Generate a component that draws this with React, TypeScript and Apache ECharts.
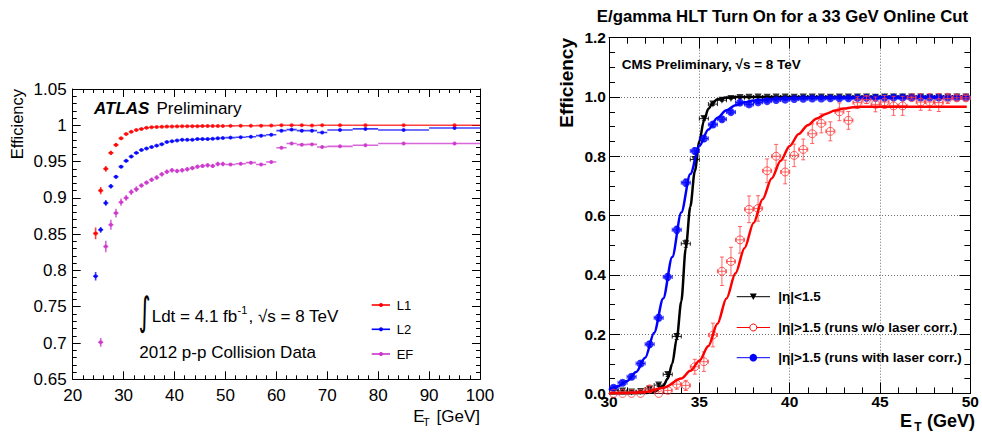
import React, { useEffect, useRef } from "react";
import * as echarts from "echarts";

// ---------------- ATLAS panel data ----------------
const atlasBinCenters = [
  24.5, 25.5, 26.5, 27.5, 28.5, 29.5, 30.5, 31.5, 32.5, 33.5, 34.5, 35.5, 36.5,
  37.5, 38.5, 39.5, 40.5, 41.5, 42.5, 43.5, 44.5, 45.5, 46.5, 47.5, 48.5, 49.5,
  51, 53, 55, 57, 59, 61, 63, 65, 67, 69, 72.5, 77.5, 85, 95,
];
const atlasBinHalfWidths = [
  0.5, 0.5, 0.5, 0.5, 0.5, 0.5, 0.5, 0.5, 0.5, 0.5, 0.5, 0.5, 0.5,
  0.5, 0.5, 0.5, 0.5, 0.5, 0.5, 0.5, 0.5, 0.5, 0.5, 0.5, 0.5, 0.5,
  1, 1, 1, 1, 1, 1, 1, 1, 1, 1, 2.5, 2.5, 5, 5,
];
const l1Eff = [
  0.851, 0.91, 0.94, 0.962, 0.973, 0.982, 0.988, 0.991, 0.9935, 0.995, 0.9965, 0.9972, 0.9977,
  0.998, 0.9982, 0.9984, 0.9985, 0.9986, 0.9987, 0.9988, 0.9988, 0.9989, 0.999, 0.999, 0.999, 0.9991,
  0.9992, 0.9993, 0.9994, 0.9995, 0.9996, 1.0, 1.0, 1.0, 0.9998, 1.0, 1.0, 1.0, 1.0, 1.0,
];
const l1Err = [
  0.008, 0.005, 0.004, 0.003, 0.0025, 0.002, 0.0015, 0.0015, 0.001, 0.001, 0.001, 0.001, 0.001,
  0.001, 0.001, 0.001, 0.001, 0.001, 0.001, 0.001, 0.001, 0.001, 0.001, 0.001, 0.001, 0.001,
  0.001, 0.001, 0.001, 0.001, 0.001, 0.001, 0.001, 0.001, 0.001, 0.001, 0.001, 0.001, 0.001, 0.001,
];
const l2Eff = [
  0.792, 0.856, 0.893, 0.916, 0.929, 0.943, 0.951, 0.957, 0.962, 0.966, 0.968, 0.97, 0.972,
  0.974, 0.977, 0.978, 0.979, 0.98, 0.98, 0.98, 0.981, 0.981, 0.981, 0.9815, 0.982, 0.9825,
  0.983, 0.9835, 0.9843, 0.9857, 0.987, 0.9926, 0.994, 0.9926, 0.9926, 0.99, 0.9935, 0.995, 0.9935, 0.9963,
];
const l2Err = [
  0.006, 0.004, 0.004, 0.003, 0.0025, 0.002, 0.002, 0.002, 0.0015, 0.0015, 0.0015, 0.0015, 0.0015,
  0.0015, 0.0015, 0.0015, 0.0015, 0.0015, 0.0015, 0.0015, 0.0015, 0.0015, 0.0015, 0.0015, 0.0015, 0.0015,
  0.0015, 0.0015, 0.0015, 0.0015, 0.0015, 0.0015, 0.0015, 0.0015, 0.0015, 0.0015, 0.0015, 0.0015, 0.0015, 0.0015,
];
const efEff = [
  null, 0.701, 0.833, 0.863, 0.879, 0.894, 0.9, 0.908, 0.912, 0.917, 0.921, 0.925, 0.928,
  0.9325, 0.936, 0.938, 0.937, 0.938, 0.9394, 0.941, 0.943, 0.944, 0.945, 0.944, 0.9467, 0.9467,
  0.946, 0.947, 0.9485, 0.946, 0.9495, 0.969, 0.975, 0.9733, 0.9737, 0.97, 0.971, 0.9724, 0.975, 0.975,
];
const efErr = [
  null, 0.006, 0.008, 0.007, 0.006, 0.005, 0.004, 0.004, 0.004, 0.003, 0.003, 0.003, 0.003,
  0.003, 0.003, 0.003, 0.003, 0.003, 0.003, 0.003, 0.003, 0.003, 0.003, 0.003, 0.003, 0.003,
  0.002, 0.002, 0.002, 0.002, 0.002, 0.002, 0.002, 0.002, 0.002, 0.002, 0.002, 0.002, 0.002, 0.002,
];
const atlasXTicks = { min: 20, max: 100, step: 10 };
const atlasYTicks = { min: 0.65, max: 1.05, step: 0.05 };

// ---------------- CMS panel data ----------------
const cmsBinCenters = [
  30.25, 30.75, 31.25, 31.75, 32.25, 32.75, 33.25, 33.75, 34.25, 34.75,
  35.25, 35.75, 36.25, 36.75, 37.25, 37.75, 38.25, 38.75, 39.25, 39.75,
  40.25, 40.75, 41.25, 41.75, 42.25, 42.75, 43.25, 43.75, 44.25, 44.75,
  45.25, 45.75, 46.25, 46.75, 47.25, 47.75, 48.25, 48.75, 49.25, 49.75,
];
const cmsBinHalfWidth = 0.25;
const barrelEff = [
  0.01, 0.008, 0.005, 0.006, 0.015, 0.028, 0.064, 0.192, 0.505, 0.789,
  0.927, 0.976, 0.989, 0.995, 0.998, 0.999, 1.0, 0.999, 1.0, 1.0,
  0.999, 1.0, 1.0, 1.0, 0.999, 1.0, 1.0, 1.0, 1.0, 0.999,
  1.0, 1.0, 1.0, 1.0, 1.0, 0.999, 1.0, 1.0, 1.0, 1.0,
];
const barrelErr = [
  0.004, 0.004, 0.003, 0.003, 0.004, 0.005, 0.007, 0.01, 0.012, 0.01,
  0.007, 0.004, 0.003, 0.002, 0.002, 0.002, 0.002, 0.002, 0.002, 0.002,
  0.002, 0.002, 0.002, 0.002, 0.002, 0.002, 0.002, 0.002, 0.002, 0.002,
  0.002, 0.002, 0.002, 0.002, 0.002, 0.002, 0.002, 0.002, 0.002, 0.002,
];
const endcapNoLaserEff = [
  0.0, 0.0, 0.0, 0.0, 0.015, 0.0, 0.01, 0.031, 0.027, 0.09,
  0.107, 0.197, 0.412, 0.445, 0.518, 0.621, 0.624, 0.751, 0.8, 0.747,
  0.803, 0.823, 0.876, 0.911, 0.884, 0.95, 0.921, 0.981, 0.991, 0.975,
  0.983, 0.97, 0.97, 0.998, 0.983, 0.983, 0.981, 0.995, 0.997, 0.997,
];
const endcapNoLaserErr = [
  0.006, 0.006, 0.006, 0.008, 0.012, 0.006, 0.012, 0.017, 0.017, 0.025,
  0.033, 0.04, 0.048, 0.048, 0.045, 0.045, 0.043, 0.04, 0.04, 0.04,
  0.038, 0.035, 0.033, 0.032, 0.032, 0.03, 0.03, 0.02, 0.013, 0.025,
  0.022, 0.032, 0.032, 0.005, 0.028, 0.028, 0.03, 0.017, 0.01, 0.008,
];
const endcapLaserEff = [
  0.019, 0.036, 0.056, 0.101, 0.166, 0.255, 0.393, 0.552, 0.711, 0.818,
  0.86, 0.907, 0.925, 0.949, 0.981, 0.975, 0.982, 0.986, 0.99, 0.991,
  0.993, 0.994, 0.995, 0.995, 0.996, 0.996, 0.996, 0.997, 0.997, 0.997,
  0.997, 0.998, 0.998, 0.998, 0.998, 0.998, 0.998, 0.998, 0.998, 0.998,
];
const endcapLaserErr = [
  0.006, 0.006, 0.007, 0.008, 0.009, 0.01, 0.011, 0.012, 0.012, 0.01,
  0.009, 0.008, 0.007, 0.006, 0.005, 0.005, 0.004, 0.004, 0.004, 0.003,
  0.003, 0.003, 0.003, 0.003, 0.003, 0.003, 0.003, 0.003, 0.003, 0.003,
  0.003, 0.003, 0.003, 0.003, 0.003, 0.003, 0.003, 0.003, 0.003, 0.003,
];
// fitted turn-on curves
const barrelFitX = [30, 31, 32, 32.5, 33.0, 33.25, 33.5, 33.75, 34.0, 34.25, 34.5, 34.75, 35.0, 35.25, 35.5, 35.75, 36.0, 36.5, 37.0, 40, 45, 50];
const barrelFitY = [0.0, 0.0, 0.001, 0.005, 0.025, 0.05, 0.1, 0.185, 0.31, 0.49, 0.63, 0.75, 0.85, 0.92, 0.96, 0.981, 0.992, 0.998, 1.0, 1.0, 1.0, 1.0];
const laserFitX = [30, 30.5, 31, 31.5, 32, 32.5, 33, 33.5, 34, 34.5, 35, 35.5, 36, 36.5, 37, 37.5, 38, 39, 40, 42, 45, 50];
const laserFitY = [0.011, 0.024, 0.042, 0.072, 0.12, 0.205, 0.32, 0.46, 0.61, 0.74, 0.835, 0.89, 0.93, 0.955, 0.972, 0.982, 0.988, 0.993, 0.996, 0.997, 0.998, 0.998];
const noLaserFitX = [30, 31, 32, 33, 34, 34.5, 35, 35.5, 36, 36.5, 37, 37.5, 38, 38.5, 39, 39.5, 40, 40.5, 41, 41.5, 42, 42.5, 43, 43.5, 44, 45, 49.8];
const noLaserFitY = [0.0, 0.001, 0.005, 0.019, 0.05, 0.076, 0.11, 0.16, 0.235, 0.32, 0.405, 0.49, 0.575, 0.655, 0.725, 0.785, 0.835, 0.875, 0.905, 0.927, 0.943, 0.954, 0.961, 0.965, 0.967, 0.967, 0.967];
const cmsXTicks = { min: 30, max: 50, step: 5 };
const cmsYTicks = { min: 0, max: 1.2, step: 0.2 };

const FONT = "'Liberation Sans', Arial, Helvetica, sans-serif";

function errorBars(
  centers: number[], values: (number | null)[], errors: (number | null)[], halves: number[] | number,
  xAxisIndex: number, yAxisIndex: number, color: string, lineWidth: number, cap: number, opacity: number, z: number
) {
  const data: number[][] = [];
  for (let i = 0; i < centers.length; i++) {
    const v = values[i];
    if (v === null || v === undefined) continue;
    const h = Array.isArray(halves) ? halves[i] : halves;
    data.push([centers[i], v, errors[i] as number, h]);
  }
  return {
    type: "custom",
    xAxisIndex, yAxisIndex, z, silent: true,
    data,
    encode: { x: 0, y: 1 },
    clip: true,
    renderItem: (params: any, api: any) => {
      const x = api.value(0), y = api.value(1), e = api.value(2), h = api.value(3);
      const c = api.coord([x, y]);
      const l = api.coord([x - h, y]);
      const r = api.coord([x + h, y]);
      const t = api.coord([x, y + e]);
      const b = api.coord([x, y - e]);
      const style = { stroke: color, lineWidth, opacity };
      const children: any[] = [
        { type: "line", shape: { x1: l[0], y1: c[1], x2: r[0], y2: c[1] }, style },
        { type: "line", shape: { x1: c[0], y1: t[1], x2: c[0], y2: b[1] }, style },
      ];
      if (cap > 0) {
        children.push(
          { type: "line", shape: { x1: c[0] - cap, y1: t[1], x2: c[0] + cap, y2: t[1] }, style },
          { type: "line", shape: { x1: c[0] - cap, y1: b[1], x2: c[0] + cap, y2: b[1] }, style },
          { type: "line", shape: { x1: l[0], y1: c[1] - cap, x2: l[0], y2: c[1] + cap }, style },
          { type: "line", shape: { x1: r[0], y1: c[1] - cap, x2: r[0], y2: c[1] + cap }, style }
        );
      }
      return { type: "group", children };
    },
  };
}

function points(centers: number[], values: (number | null)[]) {
  const d: number[][] = [];
  centers.forEach((x, i) => {
    const v = values[i];
    if (v !== null && v !== undefined) d.push([x, v]);
  });
  return d;
}

function pairs(xs: number[], ys: number[]) {
  return xs.map((x, i) => [x, ys[i]]);
}

function axis(
  gridIndex: number, position: string, t: { min: number; max: number; step: number },
  minorSplit: number, majorLen: number, minorLen: number, label: any, split: boolean
) {
  return {
    type: "value",
    gridIndex,
    position,
    min: t.min,
    max: t.max,
    interval: t.step,
    axisLine: { show: true, onZero: false, lineStyle: { color: "#000", width: 1 } },
    axisTick: { show: true, inside: true, length: majorLen, lineStyle: { color: "#000", width: 1 } },
    minorTick: { show: true, splitNumber: minorSplit, length: minorLen, lineStyle: { color: "#000", width: 1 } },
    splitLine: split
      ? { show: true, lineStyle: { color: "#6e6e6e", type: [1, 2], width: 1 } }
      : { show: false },
    minorSplitLine: { show: false },
    axisLabel: label,
  };
}

function txt(x: number, y: number, text: string, font: string, align = "left", valign = "middle", extra: any = {}) {
  return {
    type: "text",
    x, y,
    silent: true,
    z: 100,
    ...extra,
    style: {
      text, font, fill: "#000",
      textAlign: align, textVerticalAlign: valign,
      align, verticalAlign: valign,
    },
  };
}

export default function App() {
  const ref = useRef<HTMLDivElement>(null);
  useEffect(() => {
    if (!ref.current) return;
    const chart = echarts.init(ref.current, undefined, { renderer: "svg" });

    const RED = "#ff0000";
    const BLUE = "#0000ff";
    const MAG = "#cc33cc";

    const leftLabelX = { show: true, fontFamily: FONT, fontSize: 17, color: "#000", margin: 8 };
    const leftLabelY = {
      show: true, fontFamily: FONT, fontSize: 17, color: "#000", margin: 6,
      formatter: (v: number) => String(Math.round(v * 100) / 100),
    };
    const rightLabelX = { show: true, fontFamily: FONT, fontSize: 15.5, fontWeight: "bold", color: "#000", margin: 0 };
    const rightLabelY = {
      show: true, fontFamily: FONT, fontSize: 15.5, fontWeight: "bold", color: "#000", margin: 3,
      formatter: (v: number) => v.toFixed(1),
    };
    const noLabel = { show: false };

    const option: any = {
      animation: false,
      backgroundColor: "#ffffff",
      grid: [
        { left: 72.7, top: 89, width: 407.3, height: 290.3 },
        { left: 609, top: 37.7, width: 366, height: 355.7 },
      ],
      xAxis: [
        axis(0, "bottom", atlasXTicks, 5, 8, 4, leftLabelX, false),
        axis(0, "top", atlasXTicks, 5, 8, 4, noLabel, false),
        axis(1, "bottom", cmsXTicks, 5, 11, 6, rightLabelX, true),
        axis(1, "top", cmsXTicks, 5, 11, 6, noLabel, false),
      ],
      yAxis: [
        axis(0, "left", atlasYTicks, 5, 8, 4, leftLabelY, false),
        axis(0, "right", atlasYTicks, 5, 8, 4, noLabel, false),
        axis(1, "left", cmsYTicks, 4, 11, 6, rightLabelY, true),
        axis(1, "right", cmsYTicks, 4, 11, 6, noLabel, false),
      ],
      series: [
        // ATLAS
        errorBars(atlasBinCenters, efEff, efErr, atlasBinHalfWidths, 0, 0, MAG, 1.6, 0, 0.75, 3),
        { type: "scatter", xAxisIndex: 0, yAxisIndex: 0, data: points(atlasBinCenters, efEff), symbol: "circle", symbolSize: 4, itemStyle: { color: MAG }, z: 4, silent: true },
        errorBars(atlasBinCenters, l2Eff, l2Err, atlasBinHalfWidths, 0, 0, BLUE, 1.6, 0, 0.75, 3),
        { type: "scatter", xAxisIndex: 0, yAxisIndex: 0, data: points(atlasBinCenters, l2Eff), symbol: "circle", symbolSize: 4, itemStyle: { color: BLUE }, z: 4, silent: true },
        errorBars(atlasBinCenters, l1Eff, l1Err, atlasBinHalfWidths, 0, 0, RED, 1.6, 0, 0.75, 3),
        { type: "scatter", xAxisIndex: 0, yAxisIndex: 0, data: points(atlasBinCenters, l1Eff), symbol: "circle", symbolSize: 4, itemStyle: { color: RED }, z: 4, silent: true },

        // CMS
        errorBars(cmsBinCenters, barrelEff, barrelErr, cmsBinHalfWidth, 2, 2, "#000", 1, 2, 0.85, 3),
        { type: "scatter", xAxisIndex: 2, yAxisIndex: 2, data: points(cmsBinCenters, barrelEff), symbol: "triangle", symbolRotate: 180, symbolSize: 7, itemStyle: { color: "#000" }, z: 4, silent: true },
        { type: "line", xAxisIndex: 2, yAxisIndex: 2, data: pairs(barrelFitX, barrelFitY), showSymbol: false, smooth: 0.3, smoothMonotone: "x", lineStyle: { color: "#000", width: 2.5 }, z: 5, silent: true },

        errorBars(cmsBinCenters, endcapLaserEff, endcapLaserErr, cmsBinHalfWidth, 2, 2, BLUE, 1, 2, 0.8, 6),
        { type: "scatter", xAxisIndex: 2, yAxisIndex: 2, data: points(cmsBinCenters, endcapLaserEff), symbol: "circle", symbolSize: 8, itemStyle: { color: BLUE }, z: 7, silent: true },
        { type: "line", xAxisIndex: 2, yAxisIndex: 2, data: pairs(laserFitX, laserFitY), showSymbol: false, smooth: 0.3, smoothMonotone: "x", lineStyle: { color: BLUE, width: 2.5 }, z: 8, silent: true },

        errorBars(cmsBinCenters, endcapNoLaserEff, endcapNoLaserErr, cmsBinHalfWidth, 2, 2, "#ff4040", 1, 2, 0.8, 9),
        { type: "scatter", xAxisIndex: 2, yAxisIndex: 2, data: points(cmsBinCenters, endcapNoLaserEff), symbol: "circle", symbolSize: 8, itemStyle: { color: "rgba(0,0,0,0)", borderColor: "#ff4040", borderWidth: 1, opacity: 0.85 }, z: 10, silent: true },
        { type: "line", xAxisIndex: 2, yAxisIndex: 2, data: pairs(noLaserFitX, noLaserFitY), showSymbol: false, smooth: 0.3, smoothMonotone: "x", lineStyle: { color: RED, width: 2.5 }, z: 11, silent: true },
      ],
      graphic: [
        // ---- ATLAS texts ----
        txt(94, 108.5, "ATLAS", `italic bold 17px ${FONT}`),
        txt(156.5, 108.5, "Preliminary", `17px ${FONT}`),
        txt(138.5, 312, "∫", `23px 'DejaVu Sans', ${FONT}`, "left", "middle", { scaleY: 1.7 }),
        txt(151.7, 316, "Ldt = 4.1 fb", `17px ${FONT}`),
        txt(237.5, 309.5, "-1", `11px ${FONT}`),
        txt(248.5, 316, ", √s = 8 TeV", `17px ${FONT}`),
        txt(139.3, 352.7, "2012 p-p Collision Data", `17px ${FONT}`),
        txt(17, 89, "Efficiency", `16.5px ${FONT}`, "right", "middle", { rotation: Math.PI / 2 }),
        txt(413.3, 416, "E", `17px ${FONT}`),
        txt(423, 421.5, "T", `11px ${FONT}`),
        txt(480, 416, "[GeV]", `17px ${FONT}`, "right"),
        // ATLAS legend
        { type: "line", silent: true, z: 100, shape: { x1: 371.7, y1: 305, x2: 390, y2: 305 }, style: { stroke: RED, lineWidth: 1.6 } },
        { type: "circle", silent: true, z: 101, shape: { cx: 381, cy: 305, r: 2 }, style: { fill: RED } },
        txt(396.7, 305, "L1", `13px ${FONT}`),
        { type: "line", silent: true, z: 100, shape: { x1: 371.7, y1: 329.3, x2: 390, y2: 329.3 }, style: { stroke: BLUE, lineWidth: 1.6 } },
        { type: "circle", silent: true, z: 101, shape: { cx: 381, cy: 329.3, r: 2 }, style: { fill: BLUE } },
        txt(396.7, 329.3, "L2", `13px ${FONT}`),
        { type: "line", silent: true, z: 100, shape: { x1: 371.7, y1: 354, x2: 390, y2: 354 }, style: { stroke: MAG, lineWidth: 1.6 } },
        { type: "circle", silent: true, z: 101, shape: { cx: 381, cy: 354, r: 2 }, style: { fill: MAG } },
        txt(396.7, 354, "EF", `13px ${FONT}`),

        // ---- CMS texts ----
        txt(782.5, 16, "E/gamma HLT Turn On for a 33 GeV Online Cut", `bold 16.8px ${FONT}`, "center"),
        txt(566, 38, "Efficiency", `bold 19px ${FONT}`, "right", "middle", { rotation: Math.PI / 2 }),
        txt(621.7, 64.7, "CMS Preliminary, √s = 8 TeV", `bold 13.5px ${FONT}`),
        txt(900, 421, "E", `bold 18px ${FONT}`),
        txt(914.3, 427, "T", `bold 12px ${FONT}`),
        txt(975, 421, "(GeV)", `bold 18px ${FONT}`, "right"),
        // CMS legend
        { type: "line", silent: true, z: 100, shape: { x1: 736.7, y1: 296.7, x2: 770, y2: 296.7 }, style: { stroke: "#000", lineWidth: 1 } },
        { type: "polygon", silent: true, z: 101, shape: { points: [[749.8, 293.5], [756.8, 293.5], [753.3, 300]] }, style: { fill: "#000" } },
        txt(778.3, 296.7, "|η|<1.5", `bold 13.5px ${FONT}`),
        { type: "line", silent: true, z: 100, shape: { x1: 736.7, y1: 327.5, x2: 770, y2: 327.5 }, style: { stroke: RED, lineWidth: 1 } },
        { type: "circle", silent: true, z: 101, shape: { cx: 753.3, cy: 327.5, r: 3.5 }, style: { fill: "#fff", stroke: RED, lineWidth: 1 } },
        txt(778.3, 327.5, "|η|>1.5 (runs w/o laser corr.)", `bold 13.5px ${FONT}`),
        { type: "line", silent: true, z: 100, shape: { x1: 736.7, y1: 357.7, x2: 770, y2: 357.7 }, style: { stroke: BLUE, lineWidth: 1 } },
        { type: "circle", silent: true, z: 101, shape: { cx: 753.3, cy: 357.7, r: 3.8 }, style: { fill: BLUE } },
        txt(778.3, 357.7, "|η|>1.5 (runs with laser corr.)", `bold 13.5px ${FONT}`),
      ],
    };

    chart.setOption(option);
    return () => chart.dispose();
  }, []);

  return (
    <div
      ref={ref}
      style={{ position: "absolute", left: 0, top: 0, width: 982, height: 434, background: "#fff" }}
    />
  );
}
